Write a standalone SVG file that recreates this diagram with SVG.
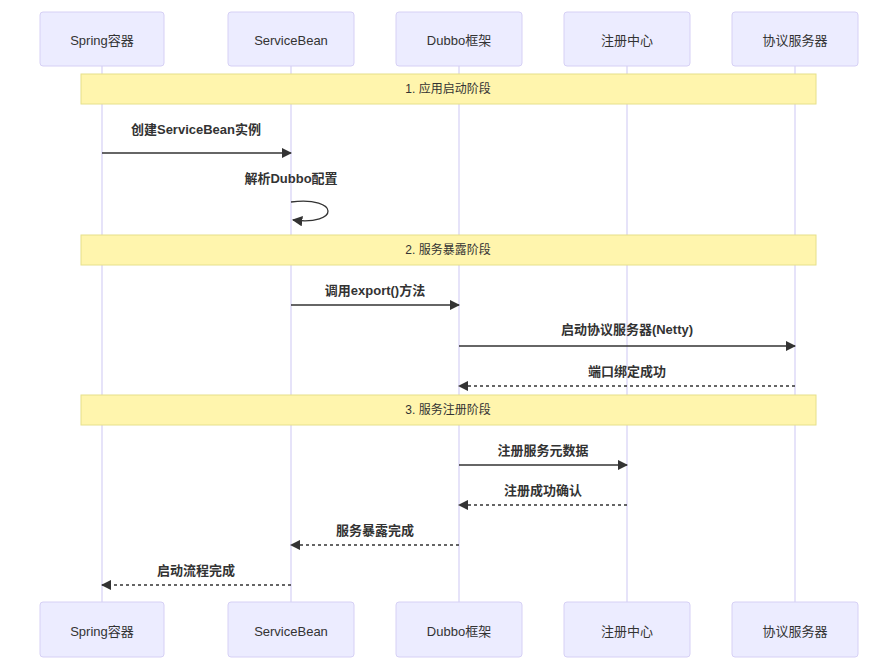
<svg xmlns="http://www.w3.org/2000/svg" width="879" height="670" viewBox="0 0 879 670">
<style>
.actor{fill:#ECECFF;stroke:#d6d0f5;stroke-width:1}
.at{font-family:"Liberation Sans","Noto Sans CJK SC",sans-serif;font-size:13px;fill:#333;text-anchor:middle;dominant-baseline:central}
.life{stroke:#d6d0f5;stroke-width:1.2}
.note{fill:#fff5ad;stroke:#e6e08a;stroke-width:1}
.nt{font-family:"Liberation Sans","Noto Sans CJK SC",sans-serif;font-size:12px;fill:#333;text-anchor:middle;dominant-baseline:central}
.msg{stroke:#333;stroke-width:1.3;fill:none}
.dash{stroke-dasharray:3,3}
.ml{font-family:"Liberation Sans","Noto Sans CJK SC",sans-serif;font-size:13px;font-weight:bold;fill:#333;text-anchor:middle;dominant-baseline:central}
</style>
<defs><marker id="ah" viewBox="0 0 10 10" refX="9" refY="5" markerWidth="8" markerHeight="8" orient="auto"><path d="M0,0 L10,5 L0,10 z" fill="#333"/></marker></defs>
<rect width="879" height="670" fill="#fff"/>
<g id="lifelines">
<line class="life" x1="102" y1="66" x2="102" y2="602"/>
<line class="life" x1="291" y1="66" x2="291" y2="602"/>
<line class="life" x1="459" y1="66" x2="459" y2="602"/>
<line class="life" x1="627" y1="66" x2="627" y2="602"/>
<line class="life" x1="795" y1="66" x2="795" y2="602"/>
</g>
<g id="spring"><rect class="actor" x="40" y="12" width="124" height="54" rx="3"/><text class="at" x="102" y="40">Spring容器</text><rect class="actor" x="40" y="602" width="124" height="55" rx="3"/><text class="at" x="102" y="631">Spring容器</text></g>
<g id="servicebean"><rect class="actor" x="228" y="12" width="126" height="54" rx="3"/><text class="at" x="291" y="40">ServiceBean</text><rect class="actor" x="228" y="602" width="126" height="55" rx="3"/><text class="at" x="291" y="631">ServiceBean</text></g>
<g id="dubbo"><rect class="actor" x="396" y="12" width="126" height="54" rx="3"/><text class="at" x="459" y="40">Dubbo框架</text><rect class="actor" x="396" y="602" width="126" height="55" rx="3"/><text class="at" x="459" y="631">Dubbo框架</text></g>
<g id="registry"><rect class="actor" x="564" y="12" width="126" height="54" rx="3"/><text class="at" x="627" y="40">注册中心</text><rect class="actor" x="564" y="602" width="126" height="55" rx="3"/><text class="at" x="627" y="631">注册中心</text></g>
<g id="protocol"><rect class="actor" x="732" y="12" width="126" height="54" rx="3"/><text class="at" x="795" y="40">协议服务器</text><rect class="actor" x="732" y="602" width="126" height="55" rx="3"/><text class="at" x="795" y="631">协议服务器</text></g>
<g id="notes">
<rect class="note" x="81" y="74" width="735" height="30"/><text class="nt" x="448" y="89">1. 应用启动阶段</text>
<rect class="note" x="81" y="235" width="735" height="30"/><text class="nt" x="448" y="250">2. 服务暴露阶段</text>
<rect class="note" x="81" y="395" width="735" height="30"/><text class="nt" x="448" y="410">3. 服务注册阶段</text>
</g>
<g id="connectors">
<line class="msg" x1="102" y1="153" x2="291" y2="153" marker-end="url(#ah)"/><text class="ml" x="196" y="129">创建ServiceBean实例</text>
<path class="msg" d="M291,202 C340,196 340,226 293,220" marker-end="url(#ah)"/><text class="ml" x="291" y="178">解析Dubbo配置</text>
<line class="msg" x1="291" y1="305" x2="459" y2="305" marker-end="url(#ah)"/><text class="ml" x="375" y="290">调用export()方法</text>
<line class="msg" x1="459" y1="346" x2="795" y2="346" marker-end="url(#ah)"/><text class="ml" x="627" y="329">启动协议服务器(Netty)</text>
<line class="msg dash" x1="795" y1="386" x2="459" y2="386" marker-end="url(#ah)"/><text class="ml" x="627" y="371">端口绑定成功</text>
<line class="msg" x1="459" y1="465" x2="627" y2="465" marker-end="url(#ah)"/><text class="ml" x="543" y="450">注册服务元数据</text>
<line class="msg dash" x1="627" y1="505" x2="459" y2="505" marker-end="url(#ah)"/><text class="ml" x="543" y="490">注册成功确认</text>
<line class="msg dash" x1="459" y1="545" x2="291" y2="545" marker-end="url(#ah)"/><text class="ml" x="375" y="530">服务暴露完成</text>
<line class="msg dash" x1="291" y1="585" x2="102" y2="585" marker-end="url(#ah)"/><text class="ml" x="196" y="570">启动流程完成</text>
</g>
</svg>
